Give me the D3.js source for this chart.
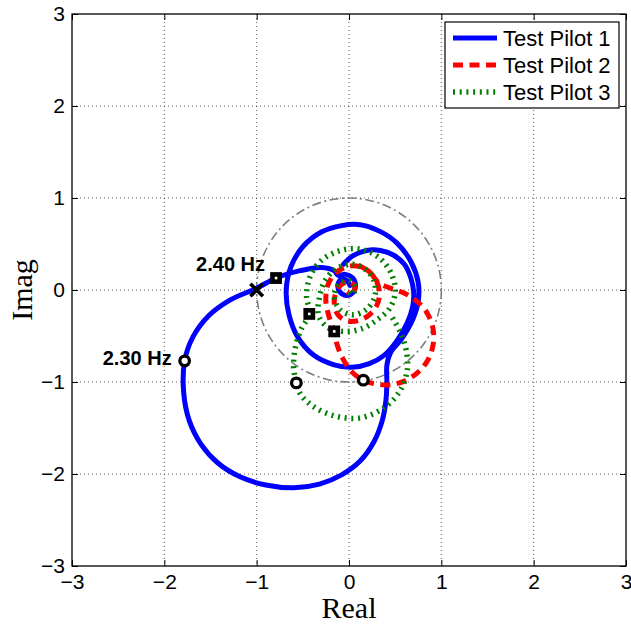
<!DOCTYPE html>
<html>
<head>
<meta charset="utf-8">
<script src="https://cdn.jsdelivr.net/npm/d3@7"></script>
<style>
  html, body { margin: 0; padding: 0; background: #fff; }
  svg { display: block; }
</style>
</head>
<body>
<svg id="chart" width="631" height="626"></svg>
<script>
// ---------------- DATA ----------------
const axisTicks = [-3, -2, -1, 0, 1, 2, 3];
const seriesNames = ["Test Pilot 1", "Test Pilot 2", "Test Pilot 3"];

// Test Pilot 1 (Real, Imag)
const pilot1 = [
  [-0.06,0.28],[0.04,0.37],[0.19,0.43],[0.34,0.43],[0.48,0.38],[0.60,0.28],[0.67,0.13],
  [0.70,-0.02],[0.69,-0.18],[0.63,-0.36],[0.52,-0.55],[0.38,-0.71],[0.22,-0.80],[0.03,-0.84],
  [-0.17,-0.81],[-0.38,-0.71],[-0.55,-0.52],[-0.65,-0.27],[-0.68,0.0],[-0.63,0.25],[-0.50,0.47],
  [-0.30,0.63],[-0.08,0.70],[0.12,0.71],[0.33,0.64],[0.52,0.51],[0.67,0.31],[0.75,0.08],
  [0.75,-0.12],[0.69,-0.32],[0.57,-0.53],[0.45,-0.68],[0.41,-0.82],[0.41,-1.0],[0.40,-1.2],
  [0.36,-1.42],[0.27,-1.65],[0.12,-1.86],[-0.08,-2.01],[-0.32,-2.11],[-0.60,-2.15],[-0.90,-2.12],
  [-1.18,-2.03],[-1.42,-1.88],[-1.60,-1.68],[-1.73,-1.42],[-1.79,-1.12],[-1.78,-0.77],[-1.69,-0.51],
  [-1.52,-0.28],[-1.29,-0.11],[-1.0,0.02],[-0.79,0.13],[-0.53,0.21],[-0.30,0.245],[-0.16,0.21],
  [-0.12,0.16],[-0.04,0.17],[0.04,0.13],[0.07,0.05],[0.04,-0.03],[-0.03,-0.06],[-0.10,-0.02],
  [-0.12,0.06],[-0.08,0.12],[-0.02,0.10],[0.01,0.05]
];

// Test Pilot 2
const pilot2 = [
  [0.10,0.27],[0.22,0.20],[0.32,0.08],[0.45,0.02],[0.59,-0.03],[0.72,-0.11],[0.84,-0.24],
  [0.91,-0.42],[0.91,-0.60],[0.85,-0.77],[0.74,-0.90],[0.60,-0.99],[0.44,-1.03],[0.28,-1.02],
  [0.155,-0.98],[0.03,-0.89],[-0.07,-0.74],[-0.13,-0.59],[-0.16,-0.45],[-0.21,-0.31],[-0.25,-0.13],
  [-0.23,0.05],[-0.14,0.19],[0.01,0.26],[0.16,0.24],[0.28,0.13],[0.33,-0.03],[0.29,-0.19],
  [0.16,-0.31],[0.0,-0.34],[-0.12,-0.27],[-0.16,-0.12],[-0.11,0.03],[-0.01,0.09],[0.06,0.04],
  [0.04,-0.04],[-0.02,-0.02]
];

// Test Pilot 3
const pilot3 = [
  [0.47,-0.30],[0.56,-0.47],[0.62,-0.66],[0.63,-0.88],[0.55,-1.10],[0.38,-1.28],[0.12,-1.39],
  [-0.15,-1.37],[-0.38,-1.27],[-0.52,-1.14],[-0.57,-1.01],[-0.60,-0.83],[-0.58,-0.62],[-0.52,-0.43],
  [-0.43,-0.26],[-0.46,-0.06],[-0.42,0.15],[-0.30,0.32],[-0.12,0.42],[0.06,0.45],[0.23,0.41],
  [0.37,0.31],[0.47,0.15],[0.50,-0.03],[0.44,-0.20],[0.31,-0.32],[0.14,-0.42],[-0.06,-0.45],
  [-0.24,-0.40],[-0.33,-0.27],[-0.32,-0.08],[-0.26,0.10],[-0.14,0.23],[0.02,0.28],[0.17,0.23],
  [0.27,0.10],[0.28,-0.07],[0.19,-0.21],[0.04,-0.27],[-0.10,-0.21],[-0.16,-0.07],[-0.11,0.06],
  [0.0,0.10],[0.07,0.03],[0.03,-0.05],[-0.02,0.0]
];

// Frequency markers: 2.30 Hz (circles) and 2.40 Hz (squares) for pilots 1..3
const markerFreqs = ["2.30 Hz", "2.40 Hz"];
const markers230 = [[-1.78,-0.77],[0.155,-0.98],[-0.57,-1.01]];
const markers240 = [[-0.79,0.13],[-0.16,-0.45],[-0.43,-0.26]];
const criticalPoint = [-1, 0];
const unitCircleRadius = 1;

// ---------------- CHART ----------------
const svg = d3.select("#chart");
const L = 72, R = 626, T = 14, B = 566;
const x = d3.scaleLinear().domain([-3, 3]).range([L, R]);
const y = d3.scaleLinear().domain([-3, 3]).range([B, T]);

svg.append("rect").attr("width", 631).attr("height", 626).attr("fill", "#fff");

svg.append("defs").append("clipPath").attr("id", "clip")
  .append("rect").attr("x", L).attr("y", T).attr("width", R - L).attr("height", B - T);

// grid
const grid = svg.append("g");
axisTicks.filter(t => t > -3 && t < 3).forEach(t => {
  grid.append("line").attr("x1", x(t)).attr("x2", x(t)).attr("y1", T).attr("y2", B)
    .attr("stroke", "#333").attr("stroke-width", 0.8).attr("stroke-dasharray", "1,3");
  grid.append("line").attr("y1", y(t)).attr("y2", y(t)).attr("x1", L).attr("x2", R)
    .attr("stroke", "#333").attr("stroke-width", 0.8).attr("stroke-dasharray", "1,3");
});

const plot = svg.append("g").attr("clip-path", "url(#clip)");

// unit circle (dash-dot gray)
plot.append("ellipse")
  .attr("cx", x(0)).attr("cy", y(0))
  .attr("rx", x(unitCircleRadius) - x(0)).attr("ry", y(0) - y(unitCircleRadius))
  .attr("fill", "none").attr("stroke", "#7f7f7f").attr("stroke-width", 1.6)
  .attr("stroke-dasharray", "9,3.5,2,3.5");

const line = d3.line().x(d => x(d[0])).y(d => y(d[1])).curve(d3.curveCatmullRom.alpha(0.5));

const styles = [
  { color: "#0000ff", width: 5, dash: null },
  { color: "#ff0000", width: 5, dash: "10,6.5" },
  { color: "#008000", width: 5.5, dash: "2,4.7" }
];
[pilot1, pilot2, pilot3].forEach((s, i) => {
  plot.append("path").datum(s).attr("d", line)
    .attr("fill", "none").attr("stroke", styles[i].color)
    .attr("stroke-width", styles[i].width)
    .attr("stroke-dasharray", styles[i].dash)
    .attr("stroke-linejoin", "round")
    .attr("stroke-linecap", i === 0 ? "round" : "butt");
});

// markers
const mk = svg.append("g");
markers230.forEach(p => {
  mk.append("circle").attr("cx", x(p[0])).attr("cy", y(p[1])).attr("r", 4.8)
    .attr("fill", "#fff").attr("stroke", "#000").attr("stroke-width", 3.3);
});
markers240.forEach(p => {
  mk.append("rect").attr("x", x(p[0]) - 3.6).attr("y", y(p[1]) - 3.6)
    .attr("width", 7.2).attr("height", 7.2)
    .attr("fill", "#fff").attr("stroke", "#000").attr("stroke-width", 4.6);
});
// critical point X
const cx0 = x(criticalPoint[0]), cy0 = y(criticalPoint[1]);
mk.append("path")
  .attr("d", `M${cx0-5},${cy0-5}L${cx0+5},${cy0+5}M${cx0-5},${cy0+5}L${cx0+5},${cy0-5}`)
  .attr("stroke", "#000").attr("stroke-width", 3.6).attr("stroke-linecap", "square");

// frequency labels (attached to Test Pilot 1 markers)
svg.append("text").attr("x", x(markers240[0][0]) - 11).attr("y", y(markers240[0][1]) - 7)
  .attr("text-anchor", "end").attr("font-family", "Liberation Sans, Arial, sans-serif")
  .attr("font-weight", "bold").attr("font-size", 20).text(markerFreqs[1]);
svg.append("text").attr("x", x(markers230[0][0]) - 13).attr("y", y(markers230[0][1]) + 4)
  .attr("text-anchor", "end").attr("font-family", "Liberation Sans, Arial, sans-serif")
  .attr("font-weight", "bold").attr("font-size", 20).text(markerFreqs[0]);

// axes
const fmt = d3.format("d");
const axB = svg.append("g").attr("transform", `translate(0,${B})`)
  .call(d3.axisBottom(x).tickValues(axisTicks).tickFormat(fmt).tickSize(-6).tickPadding(8));
const axL = svg.append("g").attr("transform", `translate(${L},0)`)
  .call(d3.axisLeft(y).tickValues(axisTicks).tickFormat(fmt).tickSize(-6).tickPadding(7));
const axT = svg.append("g").attr("transform", `translate(0,${T})`)
  .call(d3.axisTop(x).tickValues(axisTicks).tickFormat("").tickSize(-6));
const axR = svg.append("g").attr("transform", `translate(${R},0)`)
  .call(d3.axisRight(y).tickValues(axisTicks).tickFormat("").tickSize(-6));
[axB, axL, axT, axR].forEach(a => {
  a.select(".domain").remove();
  a.selectAll("line").attr("stroke", "#000").attr("stroke-width", 1);
  a.selectAll("text").attr("font-family", "Liberation Sans, Arial, sans-serif")
    .attr("font-size", 21).attr("fill", "#000");
});
svg.append("rect").attr("x", L).attr("y", T).attr("width", R - L).attr("height", B - T)
  .attr("fill", "none").attr("stroke", "#000").attr("stroke-width", 1.3);

// axis titles
svg.append("text").attr("x", (L + R) / 2).attr("y", 618).attr("text-anchor", "middle")
  .attr("font-family", "Liberation Serif, Times New Roman, serif").attr("font-size", 30).text("Real");
svg.append("text").attr("transform", `translate(32,${(T + B) / 2}) rotate(-90)`)
  .attr("text-anchor", "middle")
  .attr("font-family", "Liberation Serif, Times New Roman, serif").attr("font-size", 30).text("Imag");

// legend
const lg = svg.append("g");
lg.append("rect").attr("x", 445).attr("y", 22).attr("width", 174).attr("height", 86)
  .attr("fill", "#fff").attr("stroke", "#000").attr("stroke-width", 1.2);
seriesNames.forEach((n, i) => {
  const yy = 38 + i * 27;
  lg.append("line").attr("x1", 453).attr("x2", 497).attr("y1", yy).attr("y2", yy)
    .attr("stroke", styles[i].color).attr("stroke-width", styles[i].width)
    .attr("stroke-dasharray", styles[i].dash);
  lg.append("text").attr("x", 503).attr("y", yy + 8)
    .attr("font-family", "Liberation Sans, Arial, sans-serif").attr("font-size", 22)
    .text(n);
});
</script>
</body>
</html>
